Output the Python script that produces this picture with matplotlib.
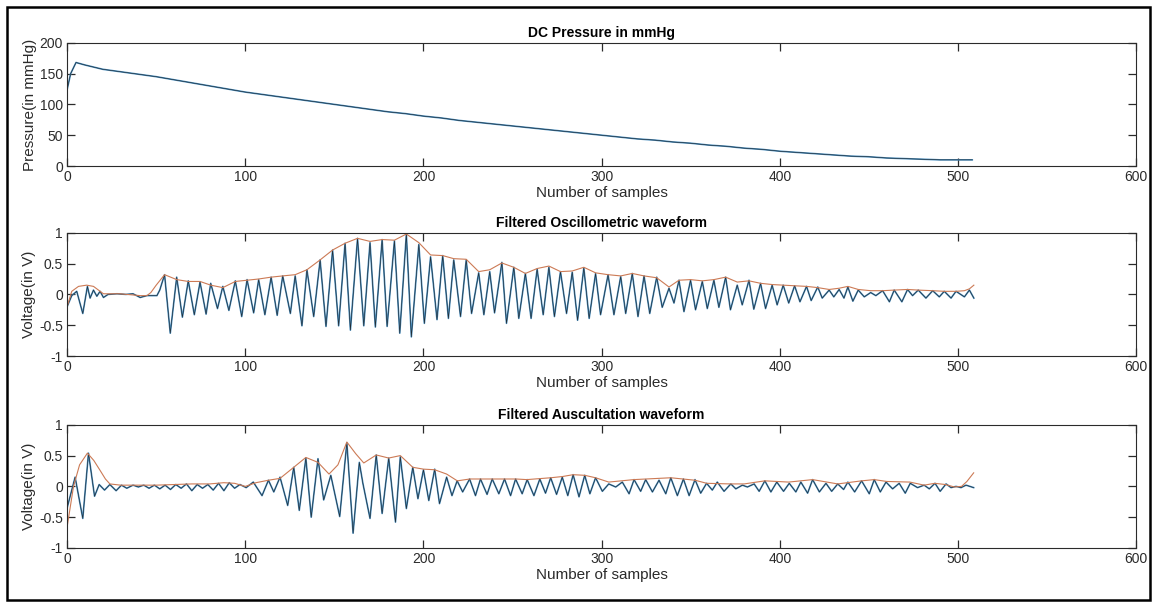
import matplotlib
matplotlib.use("Agg")
import matplotlib.pyplot as plt
from matplotlib.patches import Rectangle

plt.rcParams['font.family'] = ['Liberation Sans', 'DejaVu Sans']

# DC cuff pressure (mmHg) vs sample number
pres_x = [0, 2, 5, 10, 20, 30, 40, 50, 60, 70, 80, 90, 100, 110, 120, 130, 140, 150,
          160, 170, 180, 190, 200, 210, 220, 230, 240, 250, 260, 270, 280, 290, 300,
          310, 320, 330, 340, 350, 360, 370, 380, 390, 400, 410, 420, 430, 440, 450,
          460, 470, 480, 490, 500, 508]
pres_y = [124, 150, 168, 164, 157, 153, 149, 145, 140, 135, 130, 125, 120, 116, 112,
          108, 104, 100, 96, 92, 88, 85, 81, 78, 74, 71, 68, 65, 62, 59, 56, 53, 50,
          47, 44, 42, 39, 37, 34, 32, 29, 27, 24, 22, 20, 18, 16, 15, 13, 12, 11, 10,
          10, 10]

# filtered oscillometric waveform (turning points)
osc_x = [0, 2.6, 5.4, 8.8, 11.4, 12.9, 14.8, 16.7, 18.5, 20.4, 23, 28, 33, 37, 41, 44.8,
         50.4, 52, 54.7, 57.9, 61.5, 64.7, 68, 71.4, 74.6, 78, 80.6, 84.4, 87.4, 90.8,
         94.4, 98, 101, 104.7, 107.5, 111, 114.5, 117.9, 121, 125.3, 128, 131.8, 134.6,
         138.4, 142, 145.3, 149, 152.4, 156, 159, 163, 166.5, 170, 173, 176.8, 179.6,
         183.7, 186.7, 190.4, 193.2, 197.4, 200.5, 204, 207.6, 210.8, 214, 217, 220.8,
         224, 227, 231, 233.9, 237.2, 239.9, 244, 246.6, 250.7, 253.5, 257.2, 260.4,
         263.8, 267.2, 270.4, 273.5, 276.9, 280.3, 283.5, 286.5, 290, 293, 296.6, 299.4,
         303.6, 306.9, 310.7, 313.5, 317.2, 320.4, 323.8, 327, 330.9, 334, 337.8, 340.6,
         343.4, 346.2, 349.9, 352.7, 356.5, 359.3, 363, 365.8, 369.6, 372.3, 376.1,
         378.9, 382.7, 385.4, 389.2, 392, 395.7, 398.5, 401.9, 405, 408.3, 411.3, 415,
         417.6, 421.3, 423.8, 427.7, 430.3, 433.3, 436, 438.2, 441, 444, 447.4, 451,
         453.9, 457.7, 461.5, 464.2, 468.5, 471.7, 474.5, 477.7, 482, 485.8, 489.5,
         492.3, 496.1, 498.9, 503.6, 506.4, 508.9]
osc_y = [-0.20, -0.02, 0.05, -0.31, 0.13, -0.06, 0.07, -0.03, 0.05, -0.05, 0.0, 0.01, 0.0,
         0.01, -0.05, -0.02, -0.02, 0.07, 0.32, -0.63, 0.28, -0.37, 0.22, -0.33, 0.20,
         -0.32, 0.18, -0.23, 0.13, -0.26, 0.22, -0.36, 0.24, -0.30, 0.24, -0.33, 0.28,
         -0.34, 0.30, -0.31, 0.30, -0.51, 0.40, -0.36, 0.56, -0.52, 0.72, -0.51, 0.83,
         -0.58, 0.91, -0.51, 0.84, -0.53, 0.89, -0.52, 0.87, -0.63, 0.98, -0.69, 0.81,
         -0.47, 0.61, -0.41, 0.63, -0.39, 0.56, -0.36, 0.56, -0.31, 0.35, -0.33, 0.37,
         -0.30, 0.52, -0.47, 0.44, -0.39, 0.34, -0.39, 0.41, -0.33, 0.44, -0.36, 0.37,
         -0.31, 0.36, -0.42, 0.43, -0.39, 0.34, -0.33, 0.32, -0.33, 0.29, -0.31, 0.34,
         -0.36, 0.30, -0.31, 0.28, -0.21, 0.10, -0.14, 0.23, -0.28, 0.23, -0.25, 0.21,
         -0.23, 0.23, -0.21, 0.28, -0.25, 0.15, -0.17, 0.23, -0.24, 0.18, -0.23, 0.15,
         -0.17, 0.15, -0.14, 0.14, -0.12, 0.13, -0.10, 0.12, -0.06, 0.07, -0.04, 0.08,
         -0.06, 0.12, -0.11, 0.07, -0.04, 0.03, -0.02, 0.06, -0.12, 0.07, -0.12, 0.08,
         -0.02, 0.07, -0.06, 0.06, -0.04, 0.05, -0.06, 0.05, -0.04, 0.07, -0.06]

# upper envelope of the oscillometric waveform
osc_env_x = [0, 2.6, 6.4, 11, 14.8, 20.4, 29.8, 41, 44.8, 47, 50, 54.7, 61.5, 68, 74.6,
             80.6, 87.4, 94.4, 101, 107.5, 114.5, 121, 128, 134.6, 142, 149, 156, 163,
             170, 176.8, 183.7, 190.4, 197.4, 204, 210.8, 217, 224, 231, 237.2, 244,
             250.7, 257.2, 263.8, 270.4, 276.9, 283.5, 290, 296.6, 303.6, 310.7, 317.2,
             323.8, 330.9, 337.8, 343.4, 349.9, 356.5, 363, 369.6, 376.1, 382.7, 389.2,
             395.7, 401.9, 408.3, 415, 421.3, 427.7, 433.3, 438.2, 444, 451, 457.7,
             464.2, 471.7, 477.7, 485.8, 492.3, 498.9, 503.6, 506.4, 508.9]
osc_env_y = [-0.20, 0.05, 0.13, 0.15, 0.13, 0.01, 0.01, -0.02, -0.02, 0.03, 0.15, 0.32,
             0.24, 0.21, 0.21, 0.15, 0.11, 0.21, 0.23, 0.25, 0.28, 0.30, 0.32, 0.40, 0.56,
             0.72, 0.83, 0.91, 0.86, 0.89, 0.88, 0.98, 0.84, 0.64, 0.63, 0.58, 0.57, 0.37,
             0.40, 0.51, 0.44, 0.34, 0.42, 0.46, 0.37, 0.38, 0.44, 0.35, 0.32, 0.30, 0.34,
             0.30, 0.27, 0.12, 0.23, 0.24, 0.22, 0.24, 0.28, 0.20, 0.22, 0.18, 0.16, 0.15,
             0.14, 0.13, 0.11, 0.08, 0.10, 0.13, 0.08, 0.06, 0.06, 0.07, 0.08, 0.07, 0.06,
             0.05, 0.05, 0.06, 0.09, 0.15]

# filtered auscultation waveform (turning points)
aus_x = [0, 4.5, 8.8, 12, 15.4, 18, 21, 24, 27.5, 30.5, 33.5, 37, 40, 43, 46, 49, 52, 55,
         58, 61, 64, 67, 70, 73, 76, 79, 82, 85, 88, 91, 94, 97, 100.5, 104.5, 109.4,
         113, 116, 119.5, 123.8, 127.2, 130.3, 134, 137, 140.8, 144, 148, 153, 157,
         160.5, 164, 166, 170, 173.5, 176.8, 180.5, 184.3, 187, 190.4, 194, 196.9, 200,
         203, 206.3, 209, 213, 216, 218.9, 222, 225.9, 229.2, 232, 235.7, 238.6, 242.3,
         245.5, 248.9, 251.7, 255.4, 258.2, 262, 265.3, 268.5, 271.4, 274.7, 277.9, 281,
         284, 287.3, 290.5, 293.4, 296.6, 300.4, 304, 307.9, 311.6, 315.4, 318.2, 321.9,
         324.7, 328.5, 332.2, 336, 338.8, 342.5, 345.9, 349.1, 352.4, 355.6, 358.9,
         362.1, 364.9, 368.7, 372.5, 375.3, 379, 381.8, 385.6, 388.4, 391.6, 395, 398.3,
         402.1, 405.3, 409, 411.8, 415.6, 418.4, 422.2, 425.9, 429.1, 432.5, 435.8,
         438.2, 442, 445.9, 450.2, 453, 456.4, 459.6, 463.3, 467, 470.4, 473.2, 477.3,
         481, 483.9, 487.1, 490, 493.3, 496.1, 498.9, 501.7, 504.5, 508.8]
aus_y = [-0.35, 0.15, -0.52, 0.54, -0.16, 0.03, -0.06, 0.03, -0.07, 0.02, -0.03, 0.02,
         -0.01, 0.02, -0.03, 0.02, -0.04, 0.02, -0.05, 0.03, -0.03, 0.04, -0.07, 0.03,
         -0.03, 0.03, -0.06, 0.05, -0.07, 0.06, -0.03, 0.03, -0.02, 0.07, -0.15, 0.10,
         -0.09, 0.15, -0.31, 0.31, -0.39, 0.46, -0.50, 0.45, -0.22, 0.18, -0.49, 0.71,
         -0.76, 0.39, 0.05, -0.52, 0.51, -0.44, 0.46, -0.58, 0.48, -0.36, 0.31, -0.20,
         0.27, -0.23, 0.28, -0.28, 0.15, -0.15, 0.09, -0.09, 0.12, -0.15, 0.12, -0.13,
         0.12, -0.12, 0.12, -0.15, 0.12, -0.12, 0.11, -0.15, 0.12, -0.11, 0.14, -0.13,
         0.15, -0.15, 0.19, -0.17, 0.18, -0.12, 0.14, -0.08, 0.04, -0.01, 0.07, -0.12,
         0.11, -0.08, 0.11, -0.09, 0.10, -0.12, 0.14, -0.15, 0.12, -0.15, 0.11, -0.11,
         0.05, -0.06, 0.07, -0.08, 0.04, -0.04, 0.02, -0.01, 0.04, -0.08, 0.09, -0.09,
         0.07, -0.08, 0.05, -0.09, 0.07, -0.11, 0.11, -0.09, 0.05, -0.08, 0.04, -0.05,
         0.07, -0.09, 0.09, -0.12, 0.11, -0.09, 0.07, -0.04, 0.05, -0.11, 0.05, -0.02,
         0.02, -0.04, 0.05, -0.08, 0.04, -0.02, 0.0, -0.02, 0.02, -0.02]

# upper envelope of the auscultation waveform
aus_env_x = [0, 3.6, 7, 11.4, 15, 18.5, 21.5, 24, 30, 40, 50, 60, 70, 80, 88, 94, 100,
             106, 113, 119.5, 127.2, 134, 140.8, 147, 152, 157, 162, 166.5, 173.5, 180.5,
             187, 194, 200, 206.3, 213, 219, 226, 240, 252, 258, 271.4, 278, 284, 290.5,
             296.6, 304, 318, 338.8, 352.4, 359, 372, 380, 391.6, 405, 418.4, 432.5,
             445.9, 453, 460, 473, 481, 487, 493, 498, 502, 505, 508.8]
aus_env_y = [-0.66, 0.0, 0.35, 0.54, 0.42, 0.26, 0.12, 0.04, 0.02, 0.02, 0.02, 0.03, 0.04,
             0.04, 0.06, 0.05, 0.0, 0.06, 0.10, 0.13, 0.31, 0.47, 0.39, 0.20, 0.35, 0.72,
             0.53, 0.38, 0.51, 0.46, 0.50, 0.31, 0.28, 0.27, 0.20, 0.09, 0.12, 0.12, 0.12,
             0.11, 0.14, 0.16, 0.19, 0.18, 0.14, 0.07, 0.11, 0.14, 0.10, 0.05, 0.04, 0.04,
             0.09, 0.07, 0.11, 0.04, 0.09, 0.11, 0.08, 0.07, 0.02, 0.05, 0.03, -0.01, 0.0,
             0.08, 0.22]

BLUE = '#4a8fc0'
ENV = '#cc7a55'
AXC = '#2b2b2b'

fig = plt.figure(figsize=(11.57, 6.07), dpi=100)

L, W, H = 0.058, 0.924, 0.203
ax1 = fig.add_axes([L, 0.7265, W, H])
ax2 = fig.add_axes([L, 0.4135, W, H])
ax3 = fig.add_axes([L, 0.0972, W, H])


def style(ax, title, ylabel):
    ax.set_xlim(0, 600)
    ax.set_xticks(range(0, 601, 100))
    ax.set_title(title, fontsize=10, fontweight='bold', pad=4, color='black')
    ax.set_xlabel('Number of samples', fontsize=11, labelpad=1, color=AXC)
    ax.set_ylabel(ylabel, fontsize=11, labelpad=2, color=AXC)
    ax.tick_params(direction='in', length=6, width=0.9, top=True, right=True,
                   labelsize=10, colors=AXC, pad=3)
    for s in ax.spines.values():
        s.set_color(AXC)
        s.set_linewidth(0.8)


def wave(ax, x, y):
    ax.plot(x, y, color=BLUE, lw=1.2, solid_joinstyle='round')
    ax.plot(x, y, color='#1a1a1a', lw=0.45, alpha=0.85)


# DC pressure
wave(ax1, pres_x, pres_y)
ax1.set_ylim(0, 200)
ax1.set_yticks(range(0, 201, 50))
style(ax1, 'DC Pressure in mmHg', 'Pressure(in mmHg)')

# oscillometric
wave(ax2, osc_x, osc_y)
ax2.plot(osc_env_x, osc_env_y, color=ENV, lw=0.8)
ax2.set_ylim(-1, 1)
ax2.set_yticks([-1, -0.5, 0, 0.5, 1])
ax2.set_yticklabels(['-1', '-0.5', '0', '0.5', '1'])
style(ax2, 'Filtered Oscillometric waveform', 'Voltage(in V)')

# auscultation
wave(ax3, aus_x, aus_y)
ax3.plot(aus_env_x, aus_env_y, color=ENV, lw=0.8)
ax3.set_ylim(-1, 1)
ax3.set_yticks([-1, -0.5, 0, 0.5, 1])
ax3.set_yticklabels(['-1', '-0.5', '0', '0.5', '1'])
style(ax3, 'Filtered Auscultation waveform', 'Voltage(in V)')

# frame round the whole figure
fig.patches.append(Rectangle((7 / 1157, 7 / 607), 1143 / 1157, 593 / 607,
                             transform=fig.transFigure, fill=False,
                             edgecolor='black', linewidth=1.8))

fig.savefig('out.png', dpi=100)
